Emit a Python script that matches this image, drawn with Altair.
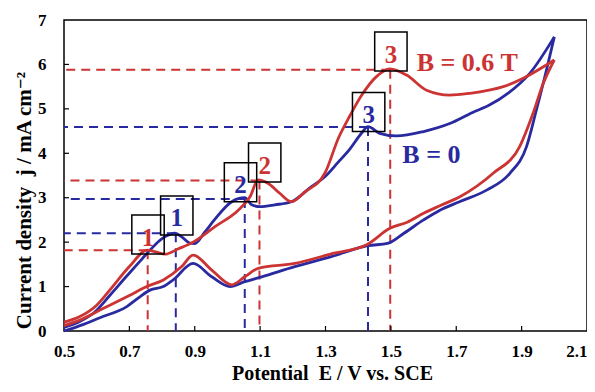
import altair as alt
import pandas as pd

# ---------------- data ----------------
blue_fwd_E = [0.50, 0.55, 0.59, 0.64, 0.69, 0.73, 0.763, 0.80, 0.84, 0.86, 0.885, 0.90, 0.93, 0.96,
              1.013, 1.053, 1.074, 1.10, 1.145, 1.196, 1.257, 1.298, 1.339, 1.375, 1.41, 1.43,
              1.466, 1.517, 1.60, 1.68, 1.75, 1.80, 1.86, 1.925, 2.00]
blue_fwd_j = [0.08, 0.22, 0.40, 0.80, 1.22, 1.55, 1.82, 2.08, 2.20, 2.12, 1.98, 1.97, 2.22, 2.50,
              2.91, 3.00, 2.84, 2.80, 2.84, 2.91, 3.25, 3.47, 3.80, 4.10, 4.45, 4.60,
              4.45, 4.39, 4.49, 4.67, 4.92, 5.08, 5.36, 5.80, 6.62]

blue_rev_E = [0.50, 0.56, 0.61, 0.692, 0.732, 0.763, 0.804, 0.834, 0.895, 0.952, 1.008, 1.053,
              1.105, 1.206, 1.32, 1.43, 1.49, 1.54, 1.60, 1.65, 1.71, 1.793, 1.864, 1.915,
              1.945, 1.976, 2.00]
blue_rev_j = [0.00, 0.15, 0.30, 0.55, 0.77, 0.92, 1.00, 1.15, 1.52, 1.22, 1.00, 1.11,
              1.22, 1.45, 1.68, 1.92, 1.97, 2.20, 2.50, 2.72, 2.91, 3.17, 3.55, 4.15,
              4.97, 5.87, 6.62]

red_fwd_E = [0.50, 0.55, 0.60, 0.64, 0.70, 0.755, 0.78, 0.81, 0.85, 0.895, 0.962, 1.033, 1.069,
             1.094, 1.125, 1.16, 1.196, 1.237, 1.298, 1.34, 1.375, 1.41, 1.455, 1.497, 1.548,
             1.609, 1.68, 1.742, 1.80, 1.844, 1.905, 2.00]
red_fwd_j = [0.20, 0.33, 0.58, 0.92, 1.45, 1.82, 1.78, 1.73, 1.85, 2.00, 2.35, 2.72, 3.02,
             3.40, 3.32, 3.10, 2.91, 3.13, 3.55, 4.35, 4.85, 5.30, 5.72, 5.90, 5.76,
             5.42, 5.31, 5.35, 5.42, 5.50, 5.69, 6.10]

red_rev_E = [0.50, 0.55, 0.61, 0.70, 0.753, 0.804, 0.86, 0.895, 0.952, 1.013, 1.053, 1.094,
             1.206, 1.32, 1.426, 1.497, 1.55, 1.60, 1.65, 1.711, 1.813, 1.894, 1.935, 1.966, 2.00]
red_rev_j = [0.12, 0.25, 0.47, 0.80, 1.00, 1.15, 1.45, 1.71, 1.37, 1.04, 1.22, 1.41,
             1.52, 1.74, 1.94, 2.31, 2.45, 2.65, 2.82, 3.02, 3.55, 4.15, 4.90, 5.57, 6.10]

# peak markers (dashed guide lines)
blue_peak_E = [0.842, 1.053, 1.43]
blue_peak_j = [2.20, 2.97, 4.59]
red_peak_E = [0.756, 1.098, 1.498]
red_peak_j = [1.82, 3.39, 5.88]

# numbered boxes
box_labels = ["1", "2", "3"]
blue_box_E = [0.845, 1.040, 1.432]
blue_box_j = [2.60, 3.35, 4.93]
red_box_E = [0.757, 1.114, 1.500]
red_box_j = [2.17, 3.79, 6.29]

# series labels
series_names = ["B = 0", "B = 0.6 T"]
series_label_E = [1.535, 1.579]
series_label_j = [3.96, 6.03]

x_ticks = [0.5, 0.7, 0.9, 1.1, 1.3, 1.5, 1.7, 1.9, 2.1]
y_ticks = [0, 1, 2, 3, 4, 5, 6, 7]

BLUE = "#1c1cb4"
RED = "#d42a2a"
BLUE_D = "#2a2aa0"
RED_D = "#cc3333"
FONT = "Times New Roman, Liberation Serif, DejaVu Serif, serif"

# ---------------- tables ----------------
def branch(E, j, series, name):
    return pd.DataFrame({"E": E, "j": j, "series": series, "branch": name})

curves = pd.concat([
    branch(blue_fwd_E, blue_fwd_j, "B = 0", "b_fwd"),
    branch(blue_rev_E, blue_rev_j, "B = 0", "b_rev"),
    branch(red_fwd_E, red_fwd_j, "B = 0.6 T", "r_fwd"),
    branch(red_rev_E, red_rev_j, "B = 0.6 T", "r_rev"),
], ignore_index=True)

peaks = pd.concat([
    pd.DataFrame({"E": blue_peak_E, "j": blue_peak_j, "series": "B = 0"}),
    pd.DataFrame({"E": red_peak_E, "j": red_peak_j, "series": "B = 0.6 T"}),
], ignore_index=True)
peaks["E0"] = 0.5
peaks["j0"] = 0.0

boxes = pd.concat([
    pd.DataFrame({"E": blue_box_E, "j": blue_box_j, "label": box_labels, "series": "B = 0"}),
    pd.DataFrame({"E": red_box_E, "j": red_box_j, "label": box_labels, "series": "B = 0.6 T"}),
], ignore_index=True)

labels = pd.DataFrame({"E": series_label_E, "j": series_label_j, "series": series_names})
xt = pd.DataFrame({"v": x_ticks[1:-1]})
yt = pd.DataFrame({"v": y_ticks[1:-1]})

W, H = 523, 311
xs = alt.Scale(domain=[0.5, 2.1], nice=False, zero=False)
ys = alt.Scale(domain=[0, 7], nice=False, zero=False)
col_line = alt.Scale(domain=series_names, range=[BLUE, RED])
col_dash = alt.Scale(domain=series_names, range=[BLUE_D, RED_D])

x_axis = alt.Axis(values=x_ticks, format=".1f", grid=False, ticks=False, tickSize=0, domain=False,
                  labelFont=FONT, labelFontWeight="bold", labelFontSize=17, labelColor="black",
                  labelPadding=12, labelFlush=False,
                  labelAlign={"condition": {"test": "datum.value >= 2.09", "value": "right"},
                              "value": "center"},
                  title="Potential\u00a0\u00a0E / V vs. SCE", titleFont=FONT, titleFontWeight="bold",
                  titleFontSize=20, titleColor="black", titleX=268, titleY=48,
                  titleBaseline="alphabetic")
y_axis = alt.Axis(values=y_ticks, format="d", grid=False, ticks=False, tickSize=0, domain=False,
                  labelFont=FONT, labelFontWeight="bold", labelFontSize=17, labelColor="black",
                  labelPadding=18, labelFlush=False,
                  title="Current density\u00a0\u00a0j / mA cm\u207b\u00b2", titleFont=FONT,
                  titleFontWeight="bold", titleFontSize=21, titleColor="black",
                  titleX=-34, titleY=180, titleBaseline="alphabetic", titleAngle=270)

base_x = alt.X("E:Q", scale=xs, axis=x_axis)
base_y = alt.Y("j:Q", scale=ys, axis=y_axis)

hline = alt.Chart(peaks).mark_rule(strokeDash=[9, 6], strokeWidth=2).encode(
    x=base_x, x2="E0:Q", y=base_y,
    color=alt.Color("series:N", scale=col_dash, legend=None))
vline = alt.Chart(peaks).mark_rule(strokeDash=[9, 6], strokeWidth=2).encode(
    x=alt.X("E:Q", scale=xs), y=alt.Y("j:Q", scale=ys), y2="j0:Q",
    color=alt.Color("series:N", scale=col_dash, legend=None))

lines = alt.Chart(curves).mark_line(strokeWidth=2.8, interpolate="monotone").encode(
    x=alt.X("E:Q", scale=xs), y=alt.Y("j:Q", scale=ys),
    color=alt.Color("series:N", scale=col_line, legend=None),
    detail="branch:N",
    order=alt.Order("E:Q"))

box_marks = alt.Chart(boxes).mark_point(
    shape="M-0.83,-1L0.83,-1L0.83,1L-0.83,1Z", size=1521, filled=False,
    color="black", strokeWidth=1.5, opacity=1).encode(
    x=alt.X("E:Q", scale=xs), y=alt.Y("j:Q", scale=ys))

box_text = alt.Chart(boxes).mark_text(font=FONT, fontWeight="bold", fontSize=25,
                                      baseline="middle", align="center", dy=3).encode(
    x=alt.X("E:Q", scale=xs), y=alt.Y("j:Q", scale=ys), text="label:N",
    color=alt.Color("series:N", scale=col_line, legend=None))

series_text = alt.Chart(labels).mark_text(font=FONT, fontWeight="bold", fontSize=26,
                                          baseline="middle", align="left").encode(
    x=alt.X("E:Q", scale=xs), y=alt.Y("j:Q", scale=ys), text="series:N",
    color=alt.Color("series:N", scale=col_line, legend=None))

xticks = alt.Chart(xt).mark_rule(color="black", strokeWidth=1.2).encode(
    x=alt.X("v:Q", scale=xs), y=alt.value(H), y2=alt.value(H - 5))
yticks = alt.Chart(yt).mark_rule(color="black", strokeWidth=1.2).encode(
    y=alt.Y("v:Q", scale=ys), x=alt.value(0), x2=alt.value(5))

chart = alt.layer(hline, vline, xticks, yticks, lines, box_marks, box_text, series_text).properties(
    width=W, height=H,
    padding={"left": 56, "top": 12, "right": 0, "bottom": 53},
    autosize=alt.AutoSizeParams(type="none"),
    background="white",
).configure_view(stroke="black", strokeWidth=1.5)

chart.save("out.html", embed_options={"renderer": "svg", "actions": False})
